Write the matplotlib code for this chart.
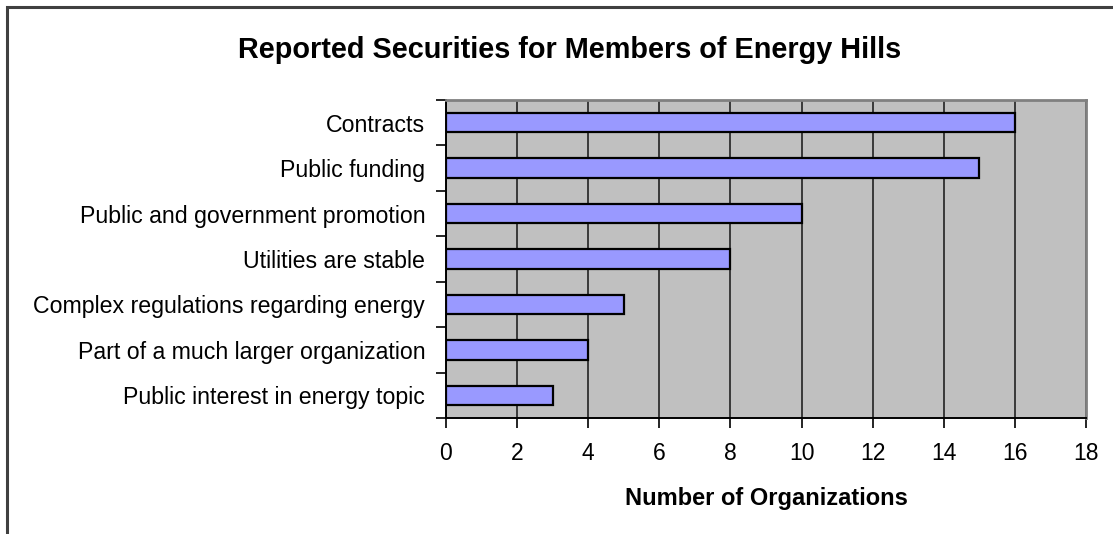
import matplotlib
matplotlib.use("Agg")
import matplotlib.pyplot as plt
from matplotlib.patches import Rectangle

plt.rcParams['font.family'] = ['Liberation Sans', 'DejaVu Sans']

categories = [
    "Contracts",
    "Public funding",
    "Public and government promotion",
    "Utilities are stable",
    "Complex regulations regarding energy",
    "Part of a much larger organization",
    "Public interest in energy topic",
]
counts = [16, 15, 10, 8, 5, 4, 3]
x_ticks = list(range(0, 19, 2))

fig = plt.figure(figsize=(11.13, 5.34), dpi=100)
W, H = 1113, 534

# outer chart frame (runs off the right and bottom edges)
fig.patches.append(Rectangle((7 / W, -0.05), 1.2, 1 - 7 / H + 0.05,
                             transform=fig.transFigure, fill=False,
                             edgecolor="#404040", linewidth=2.2))

ax = fig.add_axes([446 / W, 1 - 418 / H, 640 / W, 318 / H])
ax.set_facecolor("#C0C0C0")

ypos = list(range(len(categories)))
ax.barh(ypos, counts, height=0.43, color="#9999FF", edgecolor="black",
        linewidth=1.6, zorder=3)

ax.set_xlim(0, 18)
ax.set_ylim(len(categories) - 0.5, -0.5)
ax.set_xticks(x_ticks)
ax.set_xticklabels([str(v) for v in x_ticks], fontsize=16.5)
ax.set_yticks(ypos)
ax.set_yticklabels(categories, fontsize=16.7)
ax.tick_params(axis="y", length=0, pad=15)
ax.set_yticks([i + 0.5 for i in range(-1, len(categories))], minor=True)
ax.tick_params(axis="y", which="minor", length=7, width=1.2, direction="out")
ax.tick_params(axis="x", length=7, width=1.2, direction="out", pad=10)

ax.grid(axis="x", color="#222222", linewidth=1.2, zorder=1)
ax.set_axisbelow(True)

for side in ("top", "right"):
    ax.spines[side].set_color("#808080")
    ax.spines[side].set_linewidth(2)
for side in ("left", "bottom"):
    ax.spines[side].set_color("black")
    ax.spines[side].set_linewidth(1.4)

ax.set_xlabel("Number of Organizations", fontsize=17, fontweight="bold",
              labelpad=16)
fig.text(570 / W, 1 - 50 / H, "Reported Securities for Members of Energy Hills",
         fontsize=20.8, fontweight="bold", ha="center", va="center")

fig.savefig("out.png", dpi=100)
